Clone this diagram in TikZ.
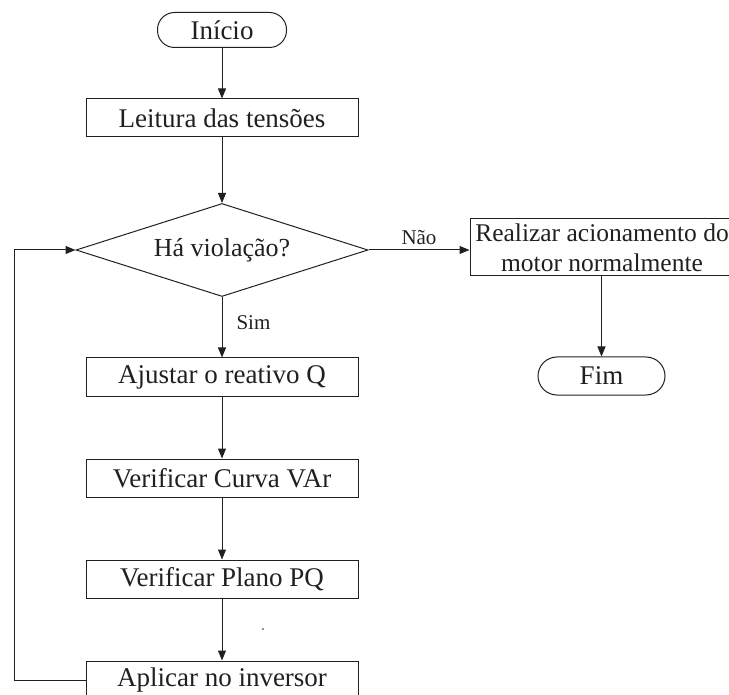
\documentclass[tikz,border=0pt]{standalone}
\usepackage{fontspec}
\setmainfont{Liberation Serif}
\usetikzlibrary{arrows.meta,shapes.geometric,calc}
\definecolor{ink}{HTML}{231F20}
\begin{document}
\begin{tikzpicture}[x=1pt,y=-1pt,
  every node/.style={text=ink},
  boxnode/.style={draw=ink, line width=1pt, rectangle, minimum width=272pt, minimum height=38pt, inner sep=0pt, font=\fontsize{27}{30}\selectfont},
  termnode/.style={draw=ink, line width=1pt, rectangle, rounded corners=17pt, minimum height=35pt, inner sep=0pt, font=\fontsize{27}{30}\selectfont},
  decnode/.style={draw=ink, line width=1pt, diamond, aspect=3.14, minimum width=292pt, minimum height=93pt, inner sep=0pt, font=\fontsize{26}{30}\selectfont},
  lbl/.style={font=\fontsize{21}{24}\selectfont, inner sep=0pt},
  arr/.style={draw=ink, line width=1pt, -{Triangle[length=10pt,width=8pt]}},
  ln/.style={draw=ink, line width=1pt}]
\useasboundingbox (0,0) rectangle (729,695);
\clip (0,0) rectangle (729,695);
\node[termnode, minimum width=129pt] (ini) at (222,30) {Início};
\node[boxnode] (lei) at (222,118) {Leitura das tensões};
\node[decnode] (dec) at (222,250) {Há violação?};
\node[boxnode, minimum width=264pt, minimum height=57pt, align=center, font=\fontsize{25.5}{30}\selectfont] (rea) at (602,247.5) {Realizar acionamento do\\motor normalmente};
\node[termnode, minimum width=127pt, minimum height=38pt, rounded corners=19pt] (fim) at (601.5,376) {Fim};
\node[boxnode] (aju) at (222,377) {Ajustar o reativo Q};
\node[boxnode] (cur) at (222,478) {Verificar Curva VAr};
\node[boxnode] (pla) at (222,579) {Verificar Plano PQ};
\node[boxnode] (apl) at (222,680) {Aplicar no inversor};
\node[circle, fill=ink, inner sep=0pt, minimum size=1.6pt] (dot) at (263,629) {};
\coordinate (lp) at (14,680);
\draw[arr] (ini) -- (lei);
\draw[arr] (lei) -- (dec);
\draw[arr] (dec.east) -- (dec.east -| rea.west) node[lbl, midway, above=5pt] {Não};
\draw[arr] (rea.south -| fim.north) -- (fim.north);
\draw[arr] (dec.south) -- (aju.north) node[lbl, pos=0.43, right=14pt] {Sim};
\draw[arr] (aju) -- (cur);
\draw[arr] (cur) -- (pla);
\draw[arr] (pla) -- (apl);
\draw[arr] (apl.west) -- (lp) |- (dec.west);
\end{tikzpicture}
\end{document}
